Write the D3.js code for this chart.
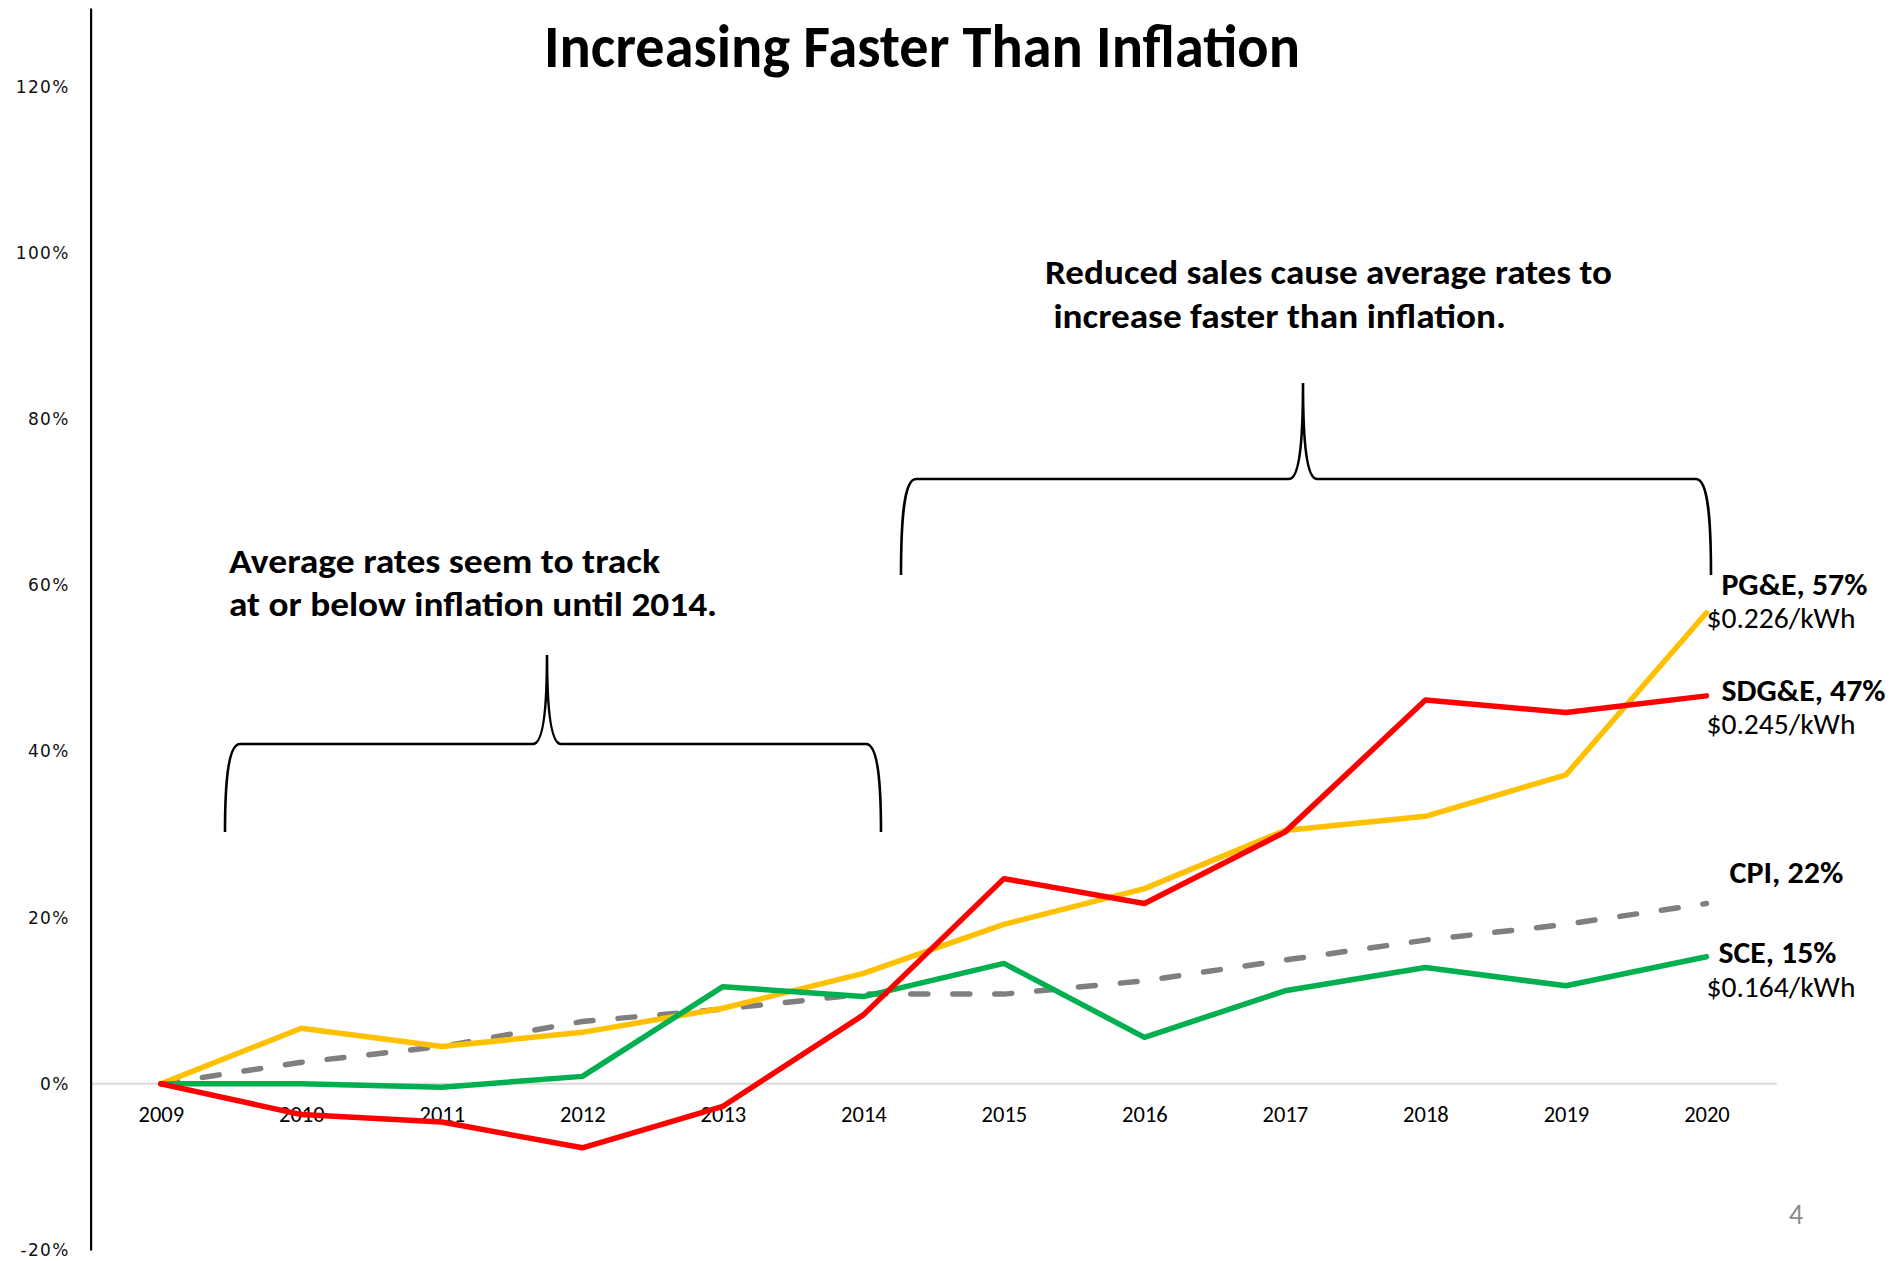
<!DOCTYPE html>
<html>
<head>
<meta charset="utf-8">
<script src="https://cdn.jsdelivr.net/npm/d3@7"></script>
<style>
  html, body { margin: 0; padding: 0; background: #ffffff; }
  svg { display: block; }
</style>
</head>
<body>
<svg id="chart" width="1895" height="1261"></svg>
<script>
// ---------------- DATA ----------------
const years = ["2009","2010","2011","2012","2013","2014","2015","2016","2017","2018","2019","2020"];
const pge  = [0, 6.7, 4.5, 6.2, 9.1, 13.3, 19.2, 23.5, 30.5, 32.2, 37.2, 56.7];
const sdge = [0, -3.7, -4.6, -7.7, -2.7, 8.3, 24.7, 21.7, 30.3, 46.2, 44.7, 46.7];
const sce  = [0, 0.0, -0.4, 0.9, 11.7, 10.5, 14.5, 5.6, 11.2, 14.0, 11.8, 15.3];
const cpi  = [0, 2.6, 4.5, 7.5, 9.0, 10.8, 10.8, 12.4, 14.9, 17.3, 19.2, 21.7];
const yTicks = [-20, 0, 20, 40, 60, 80, 100, 120];
const seriesNames = ["CPI", "PG&E", "SCE", "SDG&E"];
const endLabels = ["PG&E, 57%", "SDG&E, 47%", "CPI, 22%", "SCE, 15%"];
const priceLabels = ["$0.226/kWh", "$0.245/kWh", "$0.164/kWh"];
const titleText = "Increasing Faster Than Inflation";
const leftNote = ["Average rates seem to track", "at or below inflation until 2014."];
const rightNote = ["Reduced sales cause average rates to", " increase faster than inflation."];
const pageNumber = "4";

// ---------------- LAYOUT ----------------
const svg = d3.select("#chart");
const calibri = "Calibri, Carlito, Lato, 'Open Sans', sans-serif";

const x = d3.scalePoint().domain(years).range([90.6, 1776.7]).padding(0.5);
const y = d3.scaleLinear().domain([-20, 129.5]).range([1250, 8]);

// zero line (category axis)
svg.append("line")
  .attr("x1", x.range()[0]).attr("x2", x.range()[1])
  .attr("y1", y(0)).attr("y2", y(0))
  .attr("stroke", "#d9d9d9").attr("stroke-width", 2);

// y axis
const yAxis = d3.axisLeft(y).tickValues(yTicks).tickSize(0).tickPadding(21)
  .tickFormat(d => d + "%");
const gy = svg.append("g").attr("transform", "translate(90.6,0)").call(yAxis);
gy.select(".domain").attr("stroke", "#000").attr("stroke-width", 2.2);
gy.selectAll(".tick text")
  .attr("font-family", "'DejaVu Sans', Verdana, sans-serif")
  .attr("font-size", 17)
  .attr("letter-spacing", 1.3)
  .attr("fill", "#111");

// x axis labels
const xAxis = d3.axisBottom(x).tickSize(0).tickPadding(0);
const gx = svg.append("g").attr("transform", `translate(0,${y(0)})`).call(xAxis);
gx.select(".domain").remove();
gx.selectAll(".tick text")
  .attr("font-family", calibri)
  .attr("font-size", 22.5)
  .attr("fill", "#000")
  .attr("dy", null)
  .attr("y", 38);

// ---------------- LINES ----------------
const lineGen = d3.line().x((d, i) => x(years[i])).y(d => y(d));
const series = [
  {name: "CPI", values: cpi, color: "#7f7f7f", dash: "17,25"},
  {name: "PG&E", values: pge, color: "#ffc000", dash: null},
  {name: "SCE", values: sce, color: "#00b050", dash: null},
  {name: "SDG&E", values: sdge, color: "#ff0000", dash: null}
];
svg.append("g").selectAll("path").data(series).join("path")
  .attr("d", d => lineGen(d.values))
  .attr("fill", "none")
  .attr("stroke", d => d.color)
  .attr("stroke-width", 5.5)
  .attr("stroke-linejoin", "round")
  .attr("stroke-linecap", "round")
  .attr("stroke-dasharray", d => d.dash);

// ---------------- TEXT ----------------
function addText(t, px, py, opts) {
  const el = svg.append("text")
    .attr("x", px).attr("y", py)
    .attr("font-family", calibri)
    .attr("font-size", opts.size)
    .attr("font-weight", opts.bold ? 700 : 400)
    .attr("fill", opts.fill || "#000")
    .attr("text-anchor", opts.anchor || "start")
    .attr("xml:space", "preserve")
    .style("white-space", "pre")
    .text(t);
  if (opts.len) el.attr("textLength", opts.len).attr("lengthAdjust", "spacingAndGlyphs");
  return el;
}

// Title
addText(titleText, 922, 67, {size: 60, bold: true, anchor: "middle", len: 756});

// Annotations
addText(leftNote[0], 229, 573, {size: 34, bold: true, len: 431});
addText(leftNote[1], 229, 616, {size: 34, bold: true, len: 488});
addText(rightNote[0], 1045, 284, {size: 34, bold: true, len: 567});
addText(rightNote[1], 1045, 328, {size: 34, bold: true, len: 461});

// End labels
const lastX = x(years[years.length - 1]);
addText(endLabels[0], lastX + 15, 595, {size: 31, bold: true, len: 146});
addText(priceLabels[0], lastX, 628, {size: 29, len: 149});
addText(endLabels[1], lastX + 15, 701, {size: 31, bold: true, len: 164});
addText(priceLabels[1], lastX, 734, {size: 29, len: 149});
addText(endLabels[2], lastX + 23, 883, {size: 31, bold: true, len: 114});
addText(endLabels[3], lastX + 12, 963, {size: 31, bold: true, len: 118});
addText(priceLabels[2], lastX, 997, {size: 29, len: 149});

// Page number
addText(pageNumber, 1796, 1224, {size: 28, anchor: "middle", fill: "#8c8c8c"});

// ---------------- BRACES ----------------
function bracePath(x0, x1, xm, yb, yh, ypk) {
  const c = 15, cw = 14;
  return `M${x0},${yb} C${x0},${yh + 40} ${x0 + 3},${yh} ${x0 + c},${yh}` +
         ` L${xm - cw},${yh} C${xm - 4},${yh} ${xm},${yh - 35} ${xm},${ypk}` +
         ` C${xm},${yh - 35} ${xm + 4},${yh} ${xm + cw},${yh}` +
         ` L${x1 - c},${yh} C${x1 - 3},${yh} ${x1},${yh + 40} ${x1},${yb}`;
}
svg.append("path").attr("d", bracePath(225, 881, 547, 832, 744, 655))
  .attr("fill", "none").attr("stroke", "#000").attr("stroke-width", 2.6);
svg.append("path").attr("d", bracePath(901, 1711, 1303, 575, 479, 383))
  .attr("fill", "none").attr("stroke", "#000").attr("stroke-width", 2.6);
</script>
</body>
</html>
